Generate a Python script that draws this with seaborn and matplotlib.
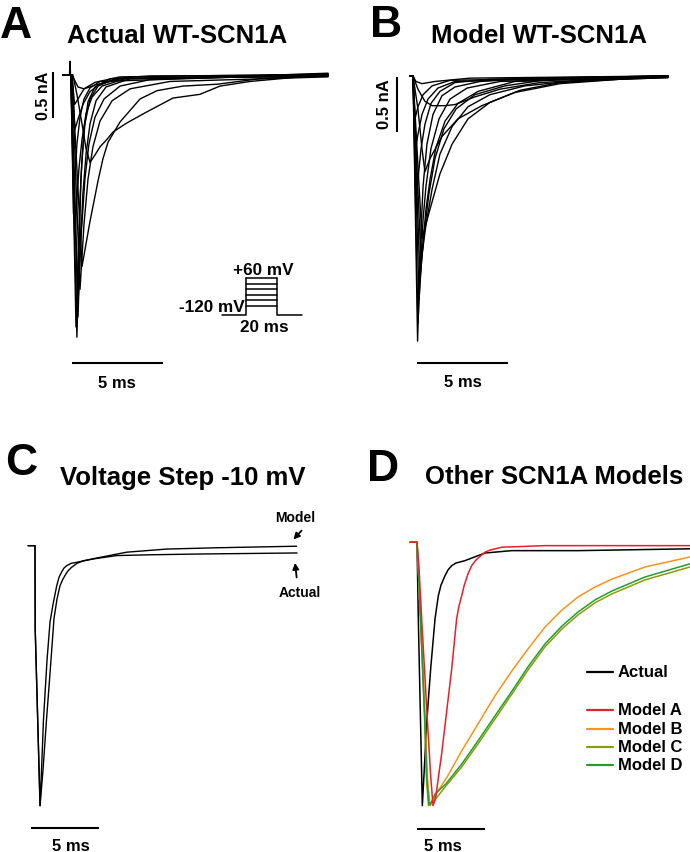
import matplotlib
matplotlib.use("Agg")
import matplotlib.pyplot as plt
import pandas as pd
import seaborn as sns

# ---- traces: time in ms from step onset, current in nA ----
# A: recorded WT-SCN1A family
a_times = [
    [-0.38, -0.03, 0, 0.03, 0.05, 0.38, 0.49, 0.60, 0.77, 0.99, 1.37, 2.20, 4.40, 14.18],
    [-0.38, 0.05, 0.33, 0.44, 0.55, 0.66, 0.82, 1.10, 1.54, 2.47, 14.18],
    [-0.38, 0.05, 0.44, 0.55, 0.71, 0.88, 1.10, 1.43, 1.98, 3.30, 14.18],
    [-0.38, 0.08, 0.44, 0.60, 0.82, 1.04, 1.37, 1.87, 2.75, 4.40, 14.18],
    [-0.38, 0.11, 0.55, 0.77, 0.99, 1.26, 1.65, 2.31, 3.30, 5.49, 14.18],
    [-0.38, 0.11, 0.66, 1.10, 1.54, 1.81, 2.09, 2.75, 3.85, 4.78, 6.21, 8.08, 10.44, 14.18],
    [-0.38, 0.05, 0.27, 0.38, 0.49, 0.66, 0.88, 1.21, 1.76, 3.02, 14.18],
    [-0.38, 0.16, 0.38, 0.66, 0.88, 1.10, 1.37, 1.65, 2.03, 2.36, 3.13, 4.23, 5.66, 7.14, 8.24, 9.89, 12.64, 14.18],
    [-0.38, 0.05, 0.19, 0.27, 0.38, 0.55, 0.77, 1.10, 1.65, 14.18],
    [-0.38, 0.11, 0.27, 0.44, 0.71, 1.10, 1.65, 2.75, 14.18],
    [-0.38, 0.11, 0.25, 0.44, 0.77, 1.37, 2.75, 14.18],
    [-0.38, 0.11, 0.44, 0.77, 1.37, 2.75, 14.18],
]
a_currents = [
    [0, 0, 0.15, 0, 0, -2.85, -2.00, -1.13, -0.59, -0.29, -0.13, -0.04, -0.01, 0],
    [0, 0, -2.74, -2.00, -1.35, -0.91, -0.53, -0.26, -0.12, -0.04, 0.01],
    [0, 0, -2.63, -1.95, -1.29, -0.86, -0.53, -0.28, -0.13, -0.04, -0.01],
    [0, 0, -2.49, -1.78, -1.13, -0.75, -0.46, -0.26, -0.12, -0.05, 0.02],
    [0, 0, -2.33, -1.62, -1.13, -0.78, -0.50, -0.28, -0.15, -0.07, -0.02],
    [0, 0, -2.08, -1.59, -1.15, -0.91, -0.73, -0.51, -0.26, -0.17, -0.12, -0.10, -0.04, 0],
    [0, 0, -1.78, -1.35, -1.02, -0.70, -0.42, -0.24, -0.12, -0.04, -0.01],
    [0, 0, -0.21, -0.53, -0.80, -0.95, -0.87, -0.78, -0.70, -0.62, -0.52, -0.40, -0.25, -0.21, -0.12, -0.07, -0.02, -0.01],
    [0, 0, -1.51, -1.13, -0.75, -0.46, -0.26, -0.14, -0.07, 0.01],
    [0, 0, -0.59, -0.48, -0.32, -0.18, -0.10, -0.04, 0],
    [0, 0, -0.32, -0.26, -0.15, -0.08, -0.02, 0.01],
    [0, 0, -0.13, -0.15, -0.11, -0.04, -0.01],
]

# B: model WT-SCN1A family
b_times = [
    [-0.16, 0, 0.25, 0.33, 0.44, 0.55, 0.76, 1.09, 1.58, 2.29, 3.66, 6.38, 13.91],
    [-0.16, 0, 0.27, 0.41, 0.55, 0.71, 0.98, 1.42, 2.02, 2.95, 4.75, 13.91],
    [-0.16, 0, 0.33, 0.49, 0.71, 0.93, 1.25, 1.75, 2.45, 3.55, 5.56, 13.91],
    [-0.16, 0, 0.38, 0.60, 0.87, 1.20, 1.69, 2.35, 3.38, 5.02, 7.47, 13.91],
    [-0.16, 0, 0.44, 0.71, 1.04, 1.47, 2.13, 3.00, 4.20, 6.11, 9.11, 13.91],
    [-0.16, 0, 0.49, 0.93, 1.47, 2.13, 3.00, 4.20, 5.84, 8.02, 11.29, 13.91],
    [-0.16, 0, 0.27, 0.49, 0.65, 0.93, 1.58, 2.45, 3.76, 5.56, 8.02, 11.29, 13.91],
    [-0.16, 0, 0.27, 0.65, 1.04, 1.75, 2.29, 3.38, 4.75, 6.93, 10.20, 13.91],
    [-0.16, 0, 0.16, 0.49, 1.20, 3.11, 13.91],
    [-0.16, 0, 0.16, 0.27, 0.44, 0.65, 0.98, 1.47, 2.29, 4.20, 13.91],
    [-0.16, 0, 0.14, 0.27, 0.49, 0.82, 1.36, 2.29, 13.91],
    [-0.16, 0, 0.11, 0.27, 0.55, 1.04, 2.02, 13.91],
]
b_currents = [
    [0, 0, -2.41, -1.94, -1.39, -1.00, -0.62, -0.35, -0.18, -0.10, -0.05, -0.02, 0],
    [0, 0, -2.25, -1.75, -1.30, -1.00, -0.66, -0.39, -0.21, -0.11, -0.05, -0.005],
    [0, 0, -2.03, -1.62, -1.21, -0.94, -0.65, -0.41, -0.25, -0.14, -0.05, -0.005],
    [0, 0, -1.85, -1.44, -1.07, -0.75, -0.48, -0.30, -0.17, -0.09, -0.03, -0.01],
    [0, 0, -1.69, -1.35, -1.03, -0.71, -0.46, -0.28, -0.17, -0.09, -0.04, -0.01],
    [0, 0, -1.48, -1.21, -0.89, -0.62, -0.39, -0.24, -0.13, -0.06, -0.03, -0.015],
    [0, 0, -0.30, -0.66, -0.87, -0.75, -0.55, -0.39, -0.27, -0.15, -0.07, -0.03, -0.015],
    [0, 0, -0.12, -0.23, -0.27, -0.27, -0.26, -0.19, -0.12, -0.06, -0.03, -0.01],
    [0, 0, -0.05, -0.07, -0.05, -0.02, 0],
    [0, 0, -1.12, -0.94, -0.66, -0.44, -0.25, -0.14, -0.06, -0.03, 0],
    [0, 0, -0.66, -0.53, -0.35, -0.21, -0.11, -0.05, 0],
    [0, 0, -0.39, -0.28, -0.17, -0.09, -0.04, 0],
]

# C: -10 mV step, normalised current
c_labels = ["Actual", "Model"]
c_times = [
    [-0.51, 0, 0.015, 0.37, 0.48, 0.62, 0.88, 1.10, 1.32, 1.59, 1.76, 1.95, 2.12, 2.32, 2.63, 3.05,
     4.26, 5.98, 8.41, 12.07, 19.17],
    [-0.51, 0, 0.015, 0.37, 0.59, 0.84, 1.10, 1.39, 1.61, 1.83, 2.01, 2.19, 2.41, 2.68, 3.07, 3.53,
     4.75, 6.71, 9.63, 13.29, 19.14],
]
c_currents = [
    [0, 0, -0.32, -1.0, -0.86, -0.67, -0.44, -0.293, -0.225, -0.154, -0.121, -0.101, -0.086, -0.077,
     -0.068, -0.064, -0.051, -0.038, -0.035, -0.032, -0.028],
    [0, 0, -0.32, -1.0, -0.86, -0.67, -0.49, -0.28, -0.205, -0.154, -0.132, -0.115, -0.097, -0.083,
     -0.068, -0.058, -0.045, -0.025, -0.013, -0.008, -0.002],
]

# D: other SCN1A models, normalised current
d_labels = ["Actual", "Model A", "Model B", "Model C", "Model D"]
d_colors = ["#000000", "#e8202a", "#f7941d", "#8c9a10", "#20a02a"]
d_times = [
    [-0.51, 0, 0.095, 0.39, 0.73, 1.0, 1.32, 1.56, 1.76, 2.05, 2.27, 2.54, 2.85, 3.51, 4.97, 6.93, 11.8, 19.97],
    [-0.51, 0, 0.15, 0.34, 0.73, 0.99, 1.17, 1.35, 1.81, 2.54, 2.90, 3.07, 3.27, 3.44, 3.73, 4.0, 4.32,
     4.97, 5.34, 6.2, 9.36, 19.97],
    [-0.51, 0, 0.146, 0.256, 0.585, 0.768, 0.951, 1.134, 1.39, 2.195, 3.27, 4.462, 5.706, 6.949, 8.12,
     9.364, 10.607, 11.778, 13.021, 14.265, 16.679, 19.971],
    [-0.51, 0, 0.146, 0.256, 0.549, 0.695, 0.841, 1.024, 1.244, 2.121, 3.27, 4.462, 5.706, 6.949, 8.12,
     9.364, 10.607, 11.778, 13.021, 14.265, 16.679, 19.971],
    [-0.51, 0, 0.146, 0.256, 0.549, 0.717, 0.878, 1.061, 1.317, 2.121, 3.27, 4.462, 5.706, 6.949, 8.12,
     9.364, 10.607, 11.778, 13.021, 14.265, 16.679, 19.971],
]
d_currents = [
    [0, 0, -0.29, -1.0, -0.67, -0.48, -0.29, -0.203, -0.162, -0.127, -0.105, -0.089, -0.079, -0.070,
     -0.041, -0.032, -0.032, -0.025],
    [0, 0, -0.10, -0.29, -0.65, -0.88, -1.0, -0.975, -0.80, -0.48, -0.29, -0.242, -0.203, -0.166, -0.120,
     -0.089, -0.067, -0.038, -0.030, -0.019, -0.013, -0.013],
    [0, 0, -0.158, -0.291, -0.652, -0.898, -1.0, -0.987, -0.956, -0.892, -0.792, -0.690, -0.583, -0.488,
     -0.405, -0.322, -0.257, -0.208, -0.170, -0.140, -0.094, -0.056],
    [0, 0, -0.158, -0.291, -0.652, -0.898, -1.0, -0.991, -0.982, -0.925, -0.853, -0.766, -0.671, -0.576,
     -0.485, -0.397, -0.329, -0.276, -0.230, -0.196, -0.143, -0.094],
    [0, 0, -0.158, -0.291, -0.652, -0.898, -0.997, -0.986, -0.956, -0.917, -0.842, -0.754, -0.659, -0.565,
     -0.473, -0.386, -0.318, -0.265, -0.219, -0.185, -0.132, -0.082],
]

# voltage protocol sketched in panel A (mV / ms)
step_levels = [-75, -48, -21, 6, 33, 60]
holding_mv = -120
pre_ms, step_ms, post_ms = 15.5, 20, 16

W, H = 690, 853

sns.set_theme(style="white")
plt.rcParams["font.family"] = ["Liberation Sans", "DejaVu Sans"]
plt.rcParams["font.weight"] = "bold"
plt.rcParams["text.color"] = "black"


def long_frame(times, currents, names):
    rows = []
    for name, ts, cs in zip(names, times, currents):
        for t, c in zip(ts, cs):
            rows.append({"trace": name, "t": t, "I": c})
    return pd.DataFrame(rows)


def box(x0, y0, x1, y1):
    return [x0 / W, 1 - y1 / H, (x1 - x0) / W, (y1 - y0) / H]


fig = plt.figure(figsize=(W / 100, H / 100), dpi=100)


def ftext(x, y, s, size, **kw):
    fig.text(x / W, 1 - y / H, s, fontsize=size, fontweight="bold", va="baseline", **kw)


def scale_bar(ax, xs, ys):
    ax.plot(xs, ys, color="black", lw=1.5, solid_capstyle="butt", clip_on=False)


def arrow(ax, head, tail):
    ax.annotate("", xy=head, xytext=tail,
                arrowprops=dict(arrowstyle="-|>", color="black", lw=1.3, mutation_scale=9,
                                shrinkA=0, shrinkB=0))


# ---- A ----
axA = fig.add_axes(box(35, 50, 340, 400))
sns.lineplot(data=long_frame(a_times, a_currents, range(len(a_times))), x="t", y="I",
             units="trace", estimator=None, sort=False, color="black", linewidth=1.0, ax=axA)
axA.set_xlim(-1.923, 14.835)
axA.set_ylim(-3.522, 0.283)
axA.set_axis_off()
scale_bar(axA, [0.11, 5.11], [-3.13, -3.13])
axA.text(2.58, -3.39, "5 ms", ha="center", va="baseline", fontsize=12, fontweight="bold")
scale_bar(axA, [-0.93, -0.93], [0.03, -0.47])
axA.text(-1.48, -0.22, "0.5 nA", rotation=90, ha="center", va="center", fontsize=11.5, fontweight="bold")

# protocol inset
axP = fig.add_axes(box(222, 279, 302, 316))
top = max(step_levels)
axP.plot([-pre_ms, 0, 0], [holding_mv, holding_mv, top], color="black", lw=1.1, clip_on=False)
for v in step_levels:
    axP.plot([0, step_ms], [v, v], color="black", lw=1.1, clip_on=False)
axP.plot([step_ms, step_ms, step_ms + post_ms], [top, holding_mv, holding_mv], color="black", lw=1.1, clip_on=False)
axP.set_xlim(-pre_ms, step_ms + post_ms)
axP.set_ylim(holding_mv, top)
axP.set_axis_off()
ftext(263, 275, "+60 mV", 12.3, ha="center")
ftext(245, 312, "-120 mV", 12.3, ha="right")
ftext(264, 332, "20 ms", 12.3, ha="center")

# ---- B ----
axB = fig.add_axes(box(370, 50, 690, 400))
sns.lineplot(data=long_frame(b_times, b_currents, range(len(b_times))), x="t", y="I",
             units="trace", estimator=None, sort=False, color="black", linewidth=1.0, ax=axB)
axB.set_xlim(-2.346, 15.112)
axB.set_ylim(-2.936, 0.245)
axB.set_axis_off()
scale_bar(axB, [0.2, 5.2], [-2.61, -2.61])
axB.text(2.73, -2.82, "5 ms", ha="center", va="baseline", fontsize=12, fontweight="bold")
scale_bar(axB, [-0.87, -0.87], [-0.01, -0.51])
axB.text(-1.53, -0.25, "0.5 nA", rotation=90, ha="center", va="center", fontsize=12, fontweight="bold")

# ---- C ----
axC = fig.add_axes(box(0, 490, 345, 853))
sns.lineplot(data=long_frame(c_times, c_currents, c_labels), x="t", y="I",
             units="trace", estimator=None, sort=False, color="black", linewidth=1.0, ax=axC)
axC.set_xlim(-2.560, 22.677)
axC.set_ylim(-1.178, 0.218)
axC.set_axis_off()
scale_bar(axC, [-0.315, 4.685], [-1.087, -1.087])
axC.text(2.61, -1.17, "5 ms", ha="center", va="baseline", fontsize=12, fontweight="bold")
axC.text(19.02, 0.096, "Model", ha="center", va="baseline", fontsize=10, fontweight="bold")
arrow(axC, (18.90, 0.024), (19.50, 0.058))
axC.text(19.39, -0.192, "Actual", ha="center", va="baseline", fontsize=10, fontweight="bold")
arrow(axC, (19.02, -0.066), (19.14, -0.122))

# ---- D ----
axD = fig.add_axes(box(345, 490, 700, 853))
palette = dict(zip(d_labels, d_colors))
sns.lineplot(data=long_frame(d_times, d_currents, d_labels), x="t", y="I", hue="trace",
             hue_order=["Actual", "Model B", "Model C", "Model D", "Model A"], palette=palette,
             units="trace", estimator=None, sort=False, linewidth=1.1, legend=False, ax=axD)
axD.set_xlim(-5.267, 20.70)
axD.set_ylim(-1.176, 0.202)
axD.set_axis_off()
scale_bar(axD, [-0.02, 4.98], [-1.09, -1.09])
axD.text(1.90, -1.169, "5 ms", ha="center", va="baseline", fontsize=12, fontweight="bold")

# legend of D
for name, color, y in zip(d_labels, d_colors, [673, 711, 729.5, 748, 766]):
    fig.add_artist(plt.Line2D([587 / W, 613 / W], [1 - y / H, 1 - y / H], color=color, lw=1.6))
    fig.text(618 / W, 1 - y / H, name, fontsize=12, fontweight="bold", va="center")

# ---- titles and panel letters ----
ftext(0, 38, "A", 32)
ftext(67, 43, "Actual WT-SCN1A", 18.5)
ftext(370, 37, "B", 32)
ftext(431, 43, "Model WT-SCN1A", 18.5)
ftext(5, 475, "C", 32)
ftext(60, 485, "Voltage Step -10 mV", 18.5)
ftext(367, 481, "D", 32)
ftext(425, 484, "Other SCN1A Models", 18.5)

fig.savefig("out.png", dpi=100)
